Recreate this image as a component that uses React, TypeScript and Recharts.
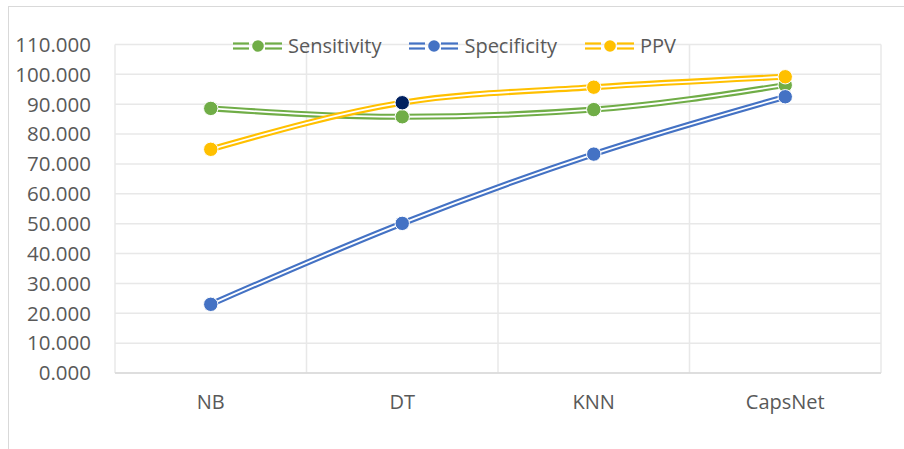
import { LineChart, Line, XAxis, YAxis, CartesianGrid } from 'recharts'

const models = ['NB', 'DT', 'KNN', 'CapsNet']
const sensitivity = [88.6, 85.8, 88.2, 96.4]
const specificity = [23.0, 50.1, 73.3, 92.5]
const ppv = [74.9, 90.5, 95.7, 99.2]
const yTicks = [0, 10, 20, 30, 40, 50, 60, 70, 80, 90, 100, 110]

const series = [
  { key: 'sensitivity', name: 'Sensitivity', color: '#70AD47' },
  { key: 'specificity', name: 'Specificity', color: '#4472C4' },
  { key: 'ppv', name: 'PPV', color: '#FFC000' },
]

// the one point Excel shows in a different colour
const highlight = { key: 'ppv', index: 1, color: '#002060' }

const data = models.map((m, i) => ({
  name: m,
  sensitivity: sensitivity[i],
  specificity: specificity[i],
  ppv: ppv[i],
}))

const font = '"Open Sans", sans-serif'
const textColor = '#595959'

function makeDot(key: string, color: string) {
  return (props: any) => {
    const { cx, cy, index } = props
    if (cx == null || cy == null) return null
    const fill = key === highlight.key && index === highlight.index ? highlight.color : color
    return <circle key={`${key}-${index}`} cx={cx} cy={cy} r={7.2} fill={fill} stroke="#fff" strokeWidth={1} />
  }
}

function LegendBox() {
  return (
    <div
      style={{
        position: 'absolute',
        left: 233,
        top: 34,
        display: 'flex',
        alignItems: 'center',
        fontFamily: font,
        fontSize: 20,
        color: textColor,
        lineHeight: '24px',
      }}
    >
      {series.map((s) => (
        <div key={s.key} style={{ display: 'flex', alignItems: 'center', marginRight: 28 }}>
          <svg width={50} height={14} style={{ marginRight: 5 }}>
            <line x1={0} x2={16} y1={4.5} y2={4.5} stroke={s.color} strokeWidth={2.2} />
            <line x1={0} x2={16} y1={9.5} y2={9.5} stroke={s.color} strokeWidth={2.2} />
            <line x1={32} x2={49} y1={4.5} y2={4.5} stroke={s.color} strokeWidth={2.2} />
            <line x1={32} x2={49} y1={9.5} y2={9.5} stroke={s.color} strokeWidth={2.2} />
            <circle cx={25} cy={7} r={5.8} fill={s.color} />
          </svg>
          <span>{s.name}</span>
        </div>
      ))}
    </div>
  )
}

export default function App() {
  return (
    <div style={{ position: 'absolute', left: 0, top: 0, width: 904, height: 449, background: '#fff', overflow: 'hidden' }}>
      <div
        style={{
          position: 'absolute',
          left: 8,
          top: 6,
          width: 910,
          height: 460,
          border: '1.5px solid #d9d9d9',
        }}
      />
      <LineChart
        width={904}
        height={449}
        data={data}
        margin={{ top: 44.5, right: 23, bottom: 0, left: 0 }}
        style={{ position: 'absolute', left: 0, top: 0 }}
      >
        <CartesianGrid
          stroke="#e8e8e8"
          strokeWidth={1.5}
          verticalCoordinatesGenerator={({ offset }: any) =>
            [0, 1, 2, 3, 4].map((i) => offset.left + (offset.width * i) / models.length)
          }
        />
        <XAxis
          dataKey="name"
          height={76}
          padding={{ left: 95.75, right: 95.75 }}
          tickLine={false}
          tickSize={0}
          tickMargin={22}
          axisLine={{ stroke: '#d9d9d9', strokeWidth: 1.5 }}
          tick={{ fill: textColor, fontFamily: font, fontSize: 20 }}
        />
        <YAxis
          width={115}
          domain={[0, 110]}
          ticks={yTicks}
          interval={0}
          axisLine={false}
          tickLine={false}
          tickSize={0}
          tickMargin={24}
          tickFormatter={(v: number) => v.toFixed(3)}
          tick={{ fill: textColor, fontFamily: font, fontSize: 20.5 }}
        />
        {series.flatMap((s) => [
          <Line
            key={s.key + '-outer'}
            type="monotone"
            dataKey={s.key}
            stroke={s.color}
            strokeWidth={6}
            dot={false}
            activeDot={false}
            isAnimationActive={false}
          />,
          <Line
            key={s.key + '-inner'}
            type="monotone"
            dataKey={s.key}
            name={s.name}
            stroke="#fff"
            strokeWidth={1.8}
            dot={makeDot(s.key, s.color)}
            activeDot={false}
            isAnimationActive={false}
          />,
        ])}
      </LineChart>
      <LegendBox />
    </div>
  )
}
